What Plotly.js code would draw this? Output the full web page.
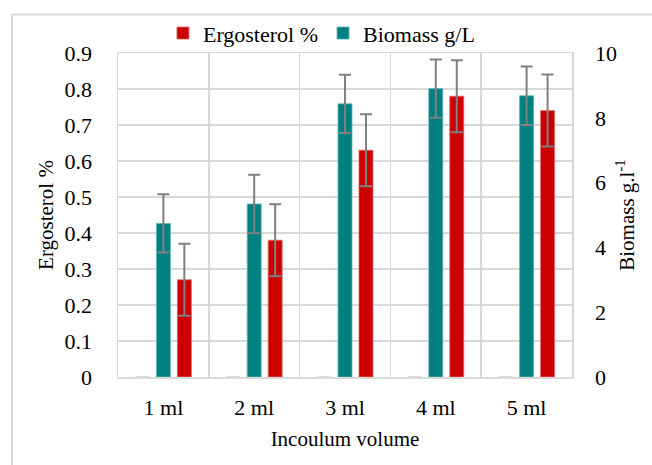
<!DOCTYPE html>
<html>
<head>
<meta charset="utf-8">
<script src="https://cdn.plot.ly/plotly-3.0.1.min.js"></script>
<style>
html,body{margin:0;padding:0;background:#fff;}
#chart{width:652px;height:465px;}
</style>
</head>
<body>
<div id="chart"></div>
<script>
// Data
var categories = ["1 ml", "2 ml", "3 ml", "4 ml", "5 ml"];
var ergosterol = [0.27, 0.38, 0.63, 0.78, 0.74];
var ergosterolErr = [0.1, 0.1, 0.1, 0.1, 0.1];
var biomass = [4.74, 5.34, 8.43, 8.9, 8.68];
var biomassErr = [0.9, 0.9, 0.9, 0.9, 0.9];
var blankSeries = [0, 0, 0, 0, 0];

var FONT = "Liberation Serif";
var W = 0.154;

var traces = [
  {
    type: "bar", name: "blank", x: categories, y: blankSeries, yaxis: "y",
    width: W, offset: -0.308, showlegend: false, hoverinfo: "skip",
    marker: {color: "#d0d0d0", line: {color: "#d0d0d0", width: 1.5}}
  },
  {
    type: "bar", name: "Ergosterol %", x: categories, y: ergosterol, yaxis: "y",
    width: W, offset: 0.154,
    marker: {color: "#cc0000", line: {color: "#e06666", width: 0.8}},
    error_y: {type: "data", array: ergosterolErr, visible: true, color: "#808080", thickness: 2, width: 6}
  },
  {
    type: "bar", name: "Biomass g/L", x: categories, y: biomass, yaxis: "y2",
    width: W, offset: -0.077,
    marker: {color: "#008080", line: {color: "#5fb3b3", width: 0.8}},
    error_y: {type: "data", array: biomassErr, visible: true, color: "#808080", thickness: 2, width: 6}
  }
];

var layout = {
  width: 652, height: 465,
  margin: {l: 118, r: 80, t: 50, b: 88},
  paper_bgcolor: "#ffffff", plot_bgcolor: "#ffffff",
  font: {family: FONT, color: "#000000", size: 22},
  barmode: "overlay",
  showlegend: true,
  legend: {
    orientation: "h", x: 0.099, xanchor: "left", y: 1.061, yanchor: "middle",
    font: {family: FONT, size: 22, color: "#000000"}, traceorder: "normal",
    itemwidth: 30, bgcolor: "rgba(0,0,0,0)"
  },
  xaxis: {
    type: "category", tickson: "boundaries", showgrid: true, gridcolor: "#d9d9d9", gridwidth: 1.5,
    ticks: "", tickfont: {family: FONT, size: 22, color: "#000000"}, ticklabelstandoff: 10,
    showline: true, linecolor: "#d9d9d9", linewidth: 1.5, mirror: true,
    title: {text: "Incoulum volume", font: {family: FONT, size: 21, color: "#000000"}, standoff: 12},
    zeroline: false
  },
  yaxis: {
    range: [0, 0.9], dtick: 0.1, tick0: 0, showgrid: true, gridcolor: "#d9d9d9", gridwidth: 1.5,
    ticks: "", tickfont: {family: FONT, size: 22, color: "#000000"}, ticklabelstandoff: 20,
    showline: true, linecolor: "#d9d9d9", linewidth: 1.5, mirror: true,
    zeroline: false,
    title: {text: "Ergosterol %", font: {family: FONT, size: 21, color: "#000000"}, standoff: 5}
  },
  yaxis2: {
    overlaying: "y", side: "right", range: [0, 10], dtick: 2, tick0: 0,
    showgrid: false, zeroline: false, ticks: "",
    tickfont: {family: FONT, size: 22, color: "#000000"}, ticklabelstandoff: 22,
    title: {text: "Biomass g.l<sup>-1</sup>", font: {family: FONT, size: 21, color: "#000000"}, standoff: 3}
  },
  shapes: [
    {type: "line", xref: "paper", yref: "paper", x0: -0.2335, x1: 1.25, y0: 1.119, y1: 1.119,
     line: {color: "#d9d9d9", width: 2}},
    {type: "line", xref: "paper", yref: "paper", x0: -0.2335, x1: -0.2335, y0: 1.119, y1: -0.3,
     line: {color: "#d9d9d9", width: 2}}
  ]
};

Plotly.newPlot("chart", traces, layout, {displayModeBar: false, staticPlot: true});
</script>
</body>
</html>
